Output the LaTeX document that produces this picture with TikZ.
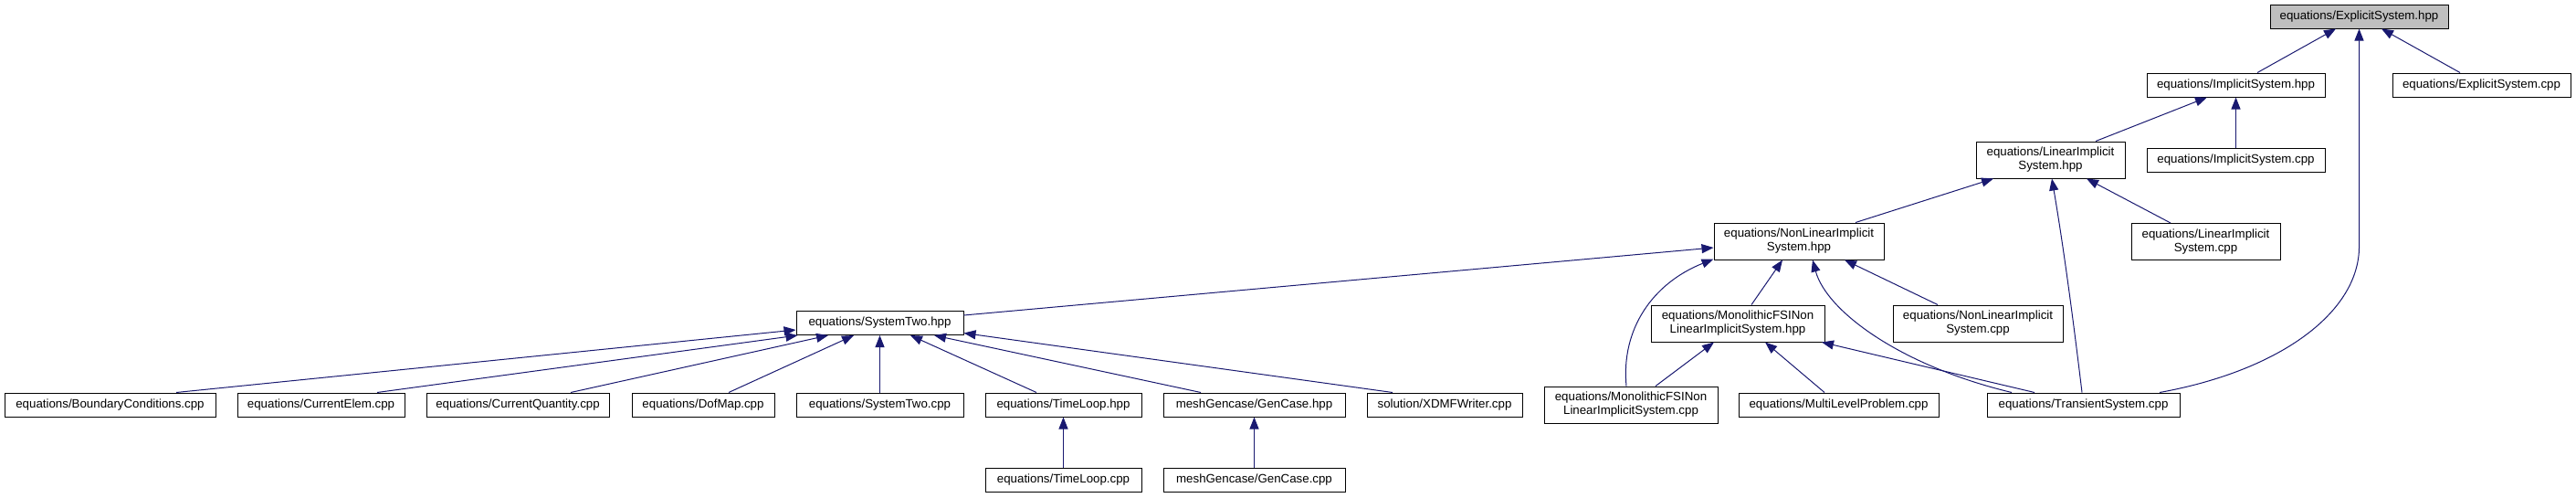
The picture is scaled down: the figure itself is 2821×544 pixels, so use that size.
\documentclass[tikz,border=0pt]{standalone}
\usepackage{fontspec}
\setmainfont{Liberation Sans}
\usetikzlibrary{arrows.meta,calc}
\definecolor{edgecol}{HTML}{191970}
\definecolor{rootfill}{HTML}{BFBFBF}
\begin{document}
\begin{tikzpicture}[x=1pt,y=-1pt,
  box/.style={draw=black, line width=1pt, fill=white, inner sep=0pt, align=center,
    font=\fontsize{13.3}{15}\selectfont, text=black, minimum height=26pt},
  tall/.style={minimum height=40pt},
  root/.style={fill=rootfill},
  edge/.style={draw=edgecol, line width=1pt, -{Triangle[length=13pt,width=10pt]}}
]
\useasboundingbox (0,0) rectangle (2821,544);

% nodes
\node[box,root,minimum width=195pt] (EShpp) at (2583.5,18) {equations/ExplicitSystem.hpp};
\node[box,minimum width=195pt] (IShpp) at (2448.5,93) {equations/ImplicitSystem.hpp};
\node[box,minimum width=195pt] (EScpp) at (2717.5,93) {equations/ExplicitSystem.cpp};
\node[box,minimum width=195pt] (IScpp) at (2448.5,175) {equations/ImplicitSystem.cpp};
\node[box,tall,minimum width=163pt] (LIShpp) at (2245.5,175) {equations/LinearImplicit\\System.hpp};
\node[box,tall,minimum width=163pt] (LIScpp) at (2415.5,264.5) {equations/LinearImplicit\\System.cpp};
\node[box,tall,minimum width=186pt] (NLIShpp) at (1970,264) {equations/NonLinearImplicit\\System.hpp};
\node[box,minimum width=183pt] (SThpp) at (963.5,353.5) {equations/SystemTwo.hpp};
\node[box,tall,minimum width=190pt] (MFhpp) at (1903,354) {equations/MonolithicFSINon\\LinearImplicitSystem.hpp};
\node[box,tall,minimum width=186pt] (NLIScpp) at (2166,354) {equations/NonLinearImplicit\\System.cpp};
\node[box,minimum width=231pt] (BCcpp) at (120.5,443) {equations/BoundaryConditions.cpp};
\node[box,minimum width=183pt] (CEcpp) at (351.5,443) {equations/CurrentElem.cpp};
\node[box,minimum width=200pt] (CQcpp) at (567,443) {equations/CurrentQuantity.cpp};
\node[box,minimum width=156pt] (DMcpp) at (770,443) {equations/DofMap.cpp};
\node[box,minimum width=183pt] (STcpp) at (963.5,443) {equations/SystemTwo.cpp};
\node[box,minimum width=171pt] (TLhpp) at (1164.5,443) {equations/TimeLoop.hpp};
\node[box,minimum width=199pt] (GChpp) at (1373.5,443) {meshGencase/GenCase.hpp};
\node[box,minimum width=170pt] (XWcpp) at (1582,443) {solution/XDMFWriter.cpp};
\node[box,tall,minimum width=190pt] (MFcpp) at (1786,443) {equations/MonolithicFSINon\\LinearImplicitSystem.cpp};
\node[box,minimum width=219pt] (MLPcpp) at (2013.5,443) {equations/MultiLevelProblem.cpp};
\node[box,minimum width=211pt] (TScpp) at (2281.5,443) {equations/TransientSystem.cpp};
\node[box,minimum width=171pt] (TLcpp) at (1164.5,525) {equations/TimeLoop.cpp};
\node[box,minimum width=199pt] (GCcpp) at (1373.5,525) {meshGencase/GenCase.cpp};

% edges (child -> parent, arrowhead at parent)
\draw[edge] ($(IShpp.north)+(23.5,0)$) -- ($(EShpp.south)+(-25.5,0)$);
\draw[edge] ($(EScpp.north)+(-23.5,0)$) -- ($(EShpp.south)+(24.5,0)$);
\draw[edge] ($(TScpp.north)+(83.5,0)$) .. controls (2500,405) and (2583.5,340) .. (2583.5,270) -- (EShpp.south);
\draw[edge] (IScpp.north) -- (IShpp.south);
\draw[edge] ($(LIShpp.north)+(49.5,0)$) -- ($(IShpp.south)+(-31.5,0)$);
\draw[edge] ($(NLIShpp.north)+(62,0)$) -- ($(LIShpp.south)+(-62.5,0)$);
\draw[edge] ($(TScpp.north)+(-1.5,0)$) .. controls (2268,330) and (2258,260) .. ($(LIShpp.south)+(1.5,0)$);
\draw[edge] ($(LIScpp.north)+(-38.5,0)$) -- ($(LIShpp.south)+(39.5,0)$);
\draw[edge] ($(SThpp.east)+(0,-8.5)$) -- ($(NLIShpp.west)+(0,7)$);
\draw[edge] ($(MFhpp.north)+(15,0)$) -- ($(NLIShpp.south)+(-18,0)$);
\draw[edge] ($(MFcpp.north)+(-5,0)$) .. controls (1775,360) and (1810,310) .. ($(NLIShpp.south west)+(0,-1)$);
\draw[edge] ($(TScpp.north)+(-78.5,0)$) .. controls (2080,400) and (2000,340) .. ($(NLIShpp.south)+(15,0)$);
\draw[edge] ($(NLIScpp.north)+(-44,0)$) -- ($(NLIShpp.south)+(50,0)$);
\draw[edge] ($(MLPcpp.north)+(-15.5,0)$) -- ($(MFhpp.south)+(30,0)$);
\draw[edge] ($(TScpp.north)+(-53.5,0)$) -- ($(MFhpp.south)+(92,0)$);
\draw[edge] ($(MFcpp.north)+(27,0)$) -- ($(MFhpp.south)+(-26,0)$);
\draw[edge] ($(BCcpp.north)+(72.5,0)$) -- ($(SThpp.west)+(0,7.5)$);
\draw[edge] ($(CEcpp.north)+(61.5,0)$) -- ($(SThpp.south west)+(2,0)$);
\draw[edge] ($(CQcpp.north)+(58,0)$) -- ($(SThpp.south)+(-56.5,0)$);
\draw[edge] ($(DMcpp.north)+(28,0)$) -- ($(SThpp.south)+(-28.5,0)$);
\draw[edge] (STcpp.north) -- (SThpp.south);
\draw[edge] ($(TLhpp.north)+(-29.5,0)$) -- ($(SThpp.south)+(33.5,0)$);
\draw[edge] ($(GChpp.north)+(-58.5,0)$) -- ($(SThpp.south)+(59.5,0)$);
\draw[edge] ($(XWcpp.north)+(-57,0)$) -- ($(SThpp.east)+(0,11)$);
\draw[edge] (TLcpp.north) -- (TLhpp.south);
\draw[edge] (GCcpp.north) -- (GChpp.south);
\end{tikzpicture}
\end{document}
